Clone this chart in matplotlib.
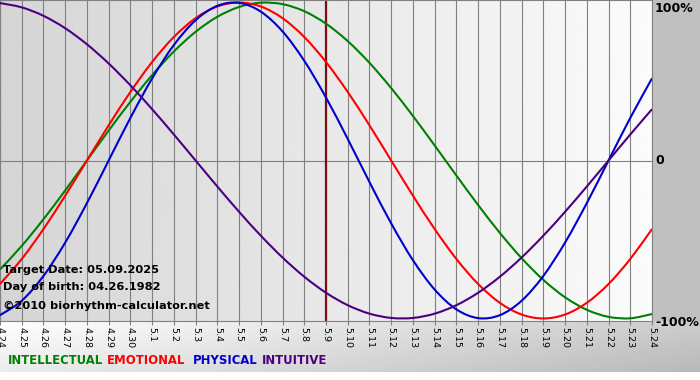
import numpy as np
import matplotlib
matplotlib.use("Agg")
import matplotlib.pyplot as plt
from matplotlib.path import Path
from matplotlib.patches import PathPatch

# ---- data ----
day_labels = ["4.24", "4.25", "4.26", "4.27", "4.28", "4.29", "4.30",
              "5.1", "5.2", "5.3", "5.4", "5.5", "5.6", "5.7", "5.8", "5.9",
              "5.10", "5.11", "5.12", "5.13", "5.14", "5.15", "5.16", "5.17",
              "5.18", "5.19", "5.20", "5.21", "5.22", "5.23", "5.24"]

physical = [-0.9791, -0.8879, -0.7308, -0.5196, -0.2698, 0.0, 0.2698, 0.5196,
            0.7308, 0.8879, 0.9791, 0.9977, 0.9423, 0.8170, 0.6311, 0.3984,
            0.1362, -0.1362, -0.3984, -0.6311, -0.8170, -0.9423, -0.9977,
            -0.9791, -0.8879, -0.7308, -0.5196, -0.2698, 0.0, 0.2698, 0.5196]

emotional = [-0.7818, -0.6235, -0.4339, -0.2225, 0.0, 0.2225, 0.4339, 0.6235,
             0.7818, 0.9010, 0.9749, 1.0, 0.9749, 0.9010, 0.7818, 0.6235,
             0.4339, 0.2225, 0.0, -0.2225, -0.4339, -0.6235, -0.7818,
             -0.9010, -0.9749, -1.0, -0.9749, -0.9010, -0.7818, -0.6235, -0.4339]

intellectual = [-0.6901, -0.5406, -0.3717, -0.1893, 0.0, 0.1893, 0.3717, 0.5406,
                0.6901, 0.8146, 0.9096, 0.9718, 0.9989, 0.9898, 0.9450, 0.8660,
                0.7557, 0.6182, 0.4582, 0.2817, 0.0951, -0.0951, -0.2817,
                -0.4582, -0.6182, -0.7557, -0.8660, -0.9450, -0.9898, -0.9989, -0.9718]

intuitive = [0.9966, 0.9694, 0.9158, 0.8372, 0.7357, 0.6142, 0.4759, 0.3247,
             0.1646, 0.0, -0.1646, -0.3247, -0.4759, -0.6142, -0.7357, -0.8372,
             -0.9158, -0.9694, -0.9966, -0.9966, -0.9694, -0.9158, -0.8372,
             -0.7357, -0.6142, -0.4759, -0.3247, -0.1646, 0.0, 0.1646, 0.3247]

target_label = "5.9"
info_lines = ["Target Date: 05.09.2025", "Day of birth: 04.26.1982",
              "\u00a92010 biorhythm-calculator.net"]
legend_names = ["INTELLECTUAL", "EMOTIONAL", "PHYSICAL", "INTUITIVE"]
axis_labels = ["100%", "0", "-100%"]

# ---- styling ----
W, H = 700, 380
colors = {"INTELLECTUAL": "#008000", "EMOTIONAL": "#ff0000",
          "PHYSICAL": "#0000cc", "INTUITIVE": "#4b0082"}
series = {"INTELLECTUAL": intellectual, "EMOTIONAL": emotional,
          "PHYSICAL": physical, "INTUITIVE": intuitive}


def smooth_path(xv, yv):
    """Cubic Bezier (Catmull-Rom) path passing through every data point."""
    p = np.column_stack([xv, yv]).astype(float)
    ext = np.vstack([p[0], p, p[-1]])
    verts = [p[0]]
    codes = [Path.MOVETO]
    for i in range(len(p) - 1):
        p0, p1, p2, p3 = ext[i], ext[i + 1], ext[i + 2], ext[i + 3]
        c1 = p1 + (p2 - p0) / 6.0
        c2 = p2 - (p3 - p1) / 6.0
        verts += [c1, c2, p2]
        codes += [Path.CURVE4] * 3
    return Path(verts, codes)


fig = plt.figure(figsize=(W / 100, H / 100), dpi=100)
fig.patch.set_facecolor("#c0c0c0")

# figure background
bg = fig.add_axes([0, 0, 1, 1], zorder=-10)
bg.axis("off")
img = np.full((H, W), 0.753)
xs = np.arange(W)[None, :]
ys = np.arange(H)[:, None]
band = (ys >= 321) & (ys < 372)
grad = 1.0 - 0.2 * xs / W - 0.08 * (ys - 321) / 51.0
img = np.where(band, grad, img)
img[372:, :] = 1.0
bg.imshow(img, cmap="gray", vmin=0, vmax=1, extent=[0, W, H, 0],
          aspect="auto", interpolation="bilinear")
bg.set_xlim(0, W)
bg.set_ylim(H, 0)

# plot area
ax_w = 652 / W
ax_h = 321 / H
ax = fig.add_axes([0, 1 - ax_h, ax_w, ax_h])
n = len(day_labels)
x = np.arange(n)
ylim = 1.016
ax.set_xlim(0, n - 1)
ax.set_ylim(-ylim, ylim)

grad_row = np.linspace(0.835, 0.985, 256)[None, :]
ax.imshow(grad_row, cmap="gray", vmin=0, vmax=1, extent=[0, n - 1, -ylim, ylim],
          aspect="auto", interpolation="bilinear", zorder=0)

for xi in x:
    ax.axvline(xi, color="#808080", lw=0.8, zorder=1)
ax.axhline(0, color="#808080", lw=0.8, zorder=1)

ti = day_labels.index(target_label)
ax.axvline(x[ti], color="#7a1010", lw=1.6, zorder=2)

for name in legend_names:
    patch = PathPatch(smooth_path(x, series[name]), facecolor="none",
                      edgecolor=colors[name], lw=1.5, zorder=3,
                      transform=ax.transData)
    ax.add_patch(patch)

for s in ax.spines.values():
    s.set_color("#808080")
    s.set_linewidth(0.8)

ax.set_yticks([])
ax.set_xticks(x)
ax.set_xticklabels(day_labels, rotation=-90, fontsize=6.8)
ax.tick_params(axis="x", length=3, width=0.8, color="#808080", pad=1.5,
               labelcolor="black")

# info text
info_y = [270, 287, 306]
for t, yy in zip(info_lines, info_y):
    fig.text(3 / W, 1 - yy / H, t, fontsize=8.2, fontweight="bold",
             color="black", ha="left", va="center", zorder=5)

# right axis labels (pixel positions of the reference)
for t, yy in zip(axis_labels, [8, 161, 322]):
    fig.text(655 / W, 1 - yy / H, t, fontsize=9, fontweight="bold",
             ha="left", va="center")

# legend text
leg_x = [8, 107, 193, 262]
for name, lx in zip(legend_names, leg_x):
    fig.text(lx / W, 1 - 361 / H, name, fontsize=8.4, fontweight="bold",
             color=colors[name], ha="left", va="center")

fig.savefig("out.png", dpi=100, facecolor=fig.get_facecolor())
